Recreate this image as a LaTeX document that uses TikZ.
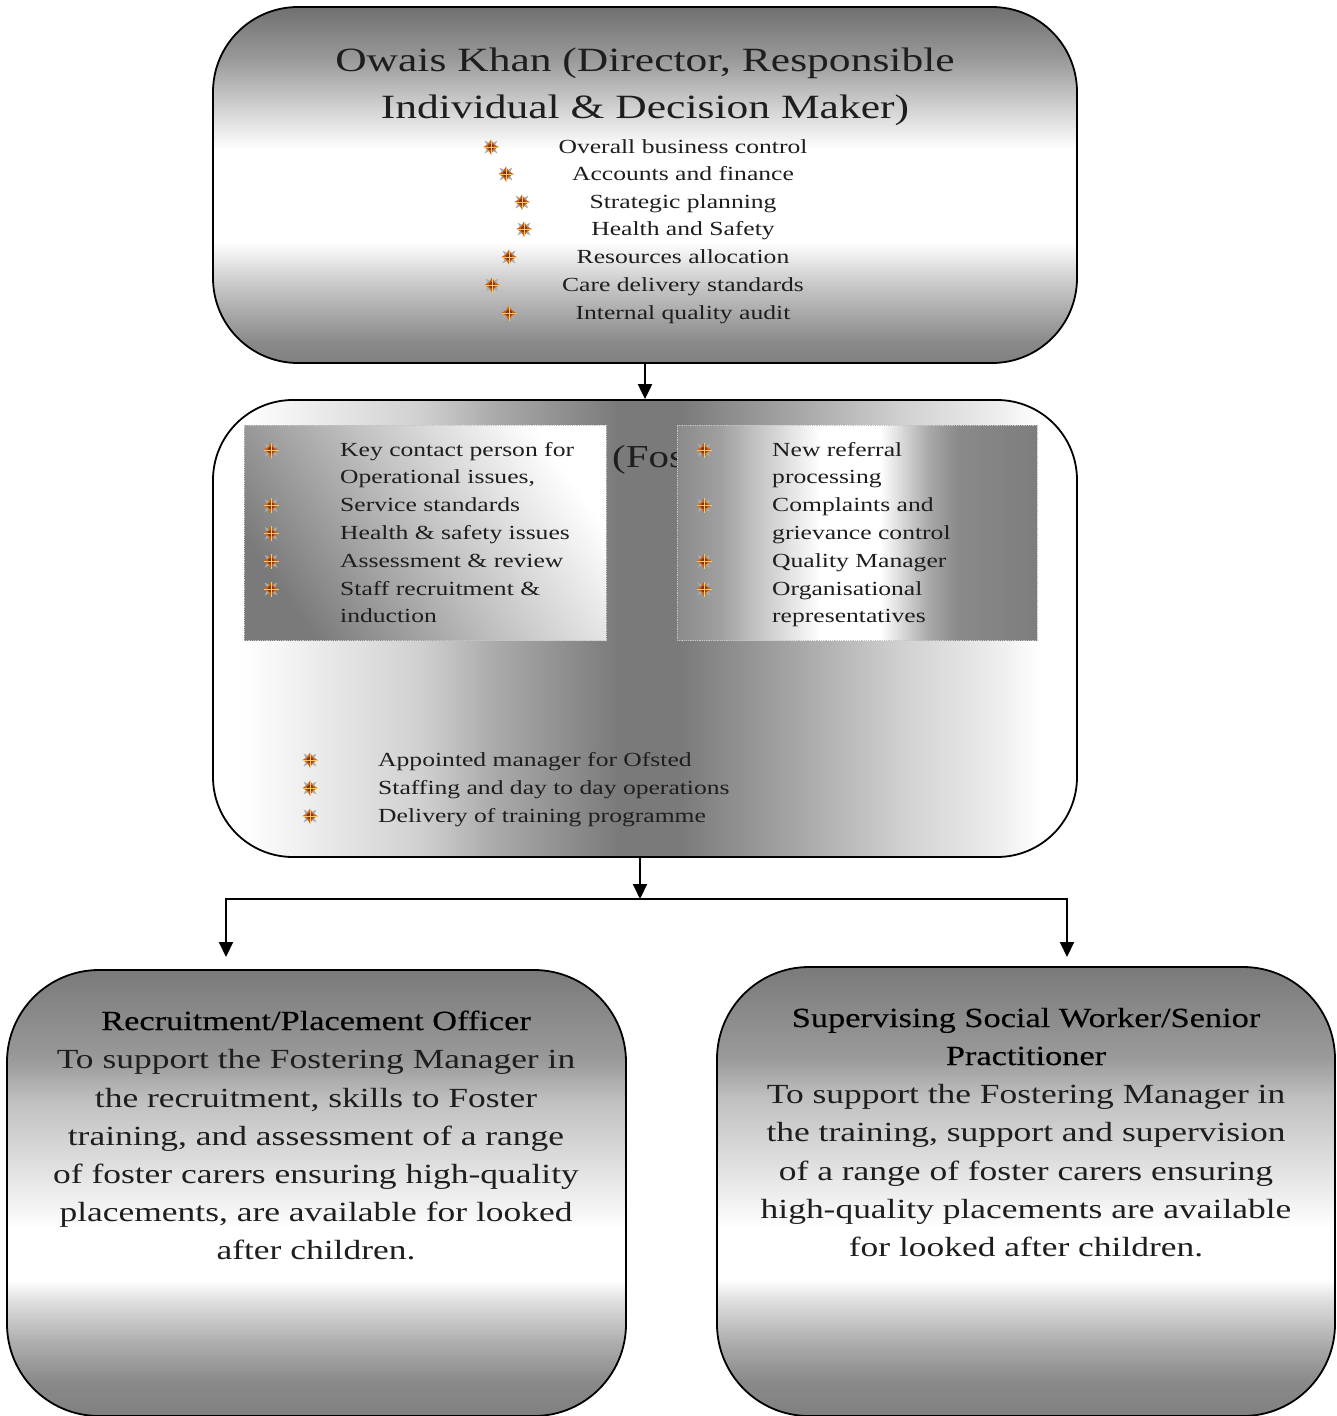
\documentclass[tikz,border=0pt]{standalone}
\usepackage{fontspec}
\setmainfont{Liberation Serif}[FakeStretch=1.28]
\newfontfamily\headfont{Liberation Serif}[FakeStretch=1.24, FakeBold=0.25]
\usetikzlibrary{shapes.geometric,arrows.meta}
\definecolor{txt}{RGB}{30,30,30}
\definecolor{g70}{RGB}{112,112,112}
\definecolor{g7a}{RGB}{122,122,122}
\definecolor{g80}{RGB}{128,128,128}
\definecolor{g8a}{RGB}{138,138,138}
\definecolor{g9a}{RGB}{154,154,154}
\definecolor{ga0}{RGB}{160,160,160}
\definecolor{ga8}{RGB}{168,168,168}
\definecolor{gb0}{RGB}{176,176,176}
\definecolor{gc0}{RGB}{192,192,192}
\definecolor{gc8}{RGB}{200,200,200}
\definecolor{gd0}{RGB}{208,208,208}
\definecolor{ge0}{RGB}{224,224,224}
\definecolor{gee}{RGB}{238,238,238}
\definecolor{gf0}{RGB}{240,240,240}
\definecolor{g7d}{RGB}{125,125,125}
\definecolor{bulbody}{RGB}{200,95,30}
\definecolor{bulbrown}{RGB}{140,45,15}
\definecolor{bulgold}{RGB}{250,205,90}
\pgfdeclareverticalshading{topshade}{100bp}{color(0bp)=(g80); color(25bp)=(g80); color(28bp)=(g8a); color(36bp)=(gc8); color(42bp)=(white); color(55bp)=(white); color(61bp)=(gd0); color(67.6bp)=(g9a); color(75bp)=(g70); color(100bp)=(g70)}
\pgfdeclareverticalshading{botshade}{100bp}{color(0bp)=(g80); color(25bp)=(g80); color(29bp)=(g8a); color(33.5bp)=(gb0); color(38bp)=(ge0); color(40.2bp)=(white); color(45.9bp)=(white); color(49.2bp)=(gf0); color(60.4bp)=(gc0); color(64.9bp)=(g9a); color(75bp)=(g7a); color(100bp)=(g7a)}
\pgfdeclarehorizontalshading{midshade}{100bp}{color(0bp)=(white); color(26.7bp)=(white); color(37bp)=(gd0); color(41.6bp)=(ga8); color(48.5bp)=(g7a); color(52bp)=(g7a); color(59bp)=(ga8); color(64.8bp)=(gd0); color(70.5bp)=(gee); color(72.9bp)=(white); color(100bp)=(white)}
\pgfdeclarehorizontalshading{rshade}{100bp}{color(0bp)=(g8a); color(25bp)=(g8a); color(31bp)=(ga0); color(37.9bp)=(gd0); color(44.9bp)=(white); color(53.2bp)=(white); color(60bp)=(ga8); color(64bp)=(g8a); color(75bp)=(g7d); color(100bp)=(g7d)}
\begin{document}
\begin{tikzpicture}[x=1pt,y=-1pt,
  box/.style={draw=black, line width=1.8pt, inner sep=0pt},
  innerbox/.style={draw=gray!45, densely dotted, line width=0.8pt, inner sep=0pt},
  arr/.style={line width=2pt, -{Triangle[width=14pt,length=15pt]}},
  con/.style={line width=2pt},
  ttl/.style={inner sep=0pt, anchor=base, font=\fontsize{34}{40}\selectfont, text=txt},
  bod/.style={inner sep=0pt, anchor=base, font=\fontsize{20}{24}\selectfont, text=txt},
  bodw/.style={bod, anchor=base west},
  big/.style={inner sep=0pt, anchor=base, font=\fontsize{27.7}{32}\selectfont, text=txt},
  head/.style={inner sep=0pt, anchor=base, font=\headfont\fontsize{27.7}{32}\selectfont, text=black},
  bul/.pic={
    \fill[gray!65] (45:9pt)--(90:3.2pt)--(135:9pt)--(180:3.2pt)--(225:9pt)--(270:3.2pt)--(315:9pt)--(0:3.2pt)--cycle;
    \fill[bulbody] (0:7.5pt)--(45:4pt)--(90:7.5pt)--(135:4pt)--(180:7.5pt)--(225:4pt)--(270:7.5pt)--(315:4pt)--cycle;
    \fill[bulbrown] (0,0) circle[radius=3.2pt];
    \draw[bulgold, line width=0.9pt] (-7.5pt,0)--(7.5pt,0) (0,-7.5pt)--(0,7.5pt);
  }
]
\useasboundingbox (0,0) rectangle (1336,1416);

% top box
\node[box, rounded corners=85pt, shading=topshade, minimum width=864pt, minimum height=356pt] (topbox) at (645,185) {};
\node[ttl] (t1) at (645,71) {Owais Khan (Director, Responsible};
\node[ttl] (t2) at (645,118) {Individual \& Decision Maker)};
\foreach \y/\bx/\t [count=\i] in {147/491/Overall business control, 174/506/Accounts and finance, 202/522/Strategic planning, 229/524/Health and Safety, 257/509/Resources allocation, 285/492/Care delivery standards, 313/509/Internal quality audit}{
  \node[bod] (tl\i) at (683,\y+6) {\t};
  \pic at (\bx,\y) {bul};
}

% middle box
\node[box, rounded corners=80pt, shading=midshade, minimum width=864pt, minimum height=457pt] (midbox) at (645,628.5) {};
\node[inner sep=0pt, anchor=base west, font=\fontsize{32}{36}\selectfont, text=txt] (fos) at (612,467) {(Fos};

% left inner box
\node[innerbox, top color=white, bottom color=g7a, middle color=gc0, shading angle=-55, minimum width=362pt, minimum height=215pt] (lbox) at (425,532.5) {};
\foreach \k/\t/\b in {0/Key contact person for/1, 1/{Operational issues,}/0, 2/Service standards/1, 3/Health \& safety issues/1, 4/Assessment \& review/1, 5/Staff recruitment \&/1, 6/induction/0}{
  \node[bodw] (ll\k) at (340,456+27.8*\k) {\t};
  \ifnum\b=1 \pic at (271,450+27.8*\k) {bul}; \fi
}

% right inner box
\node[innerbox, shading=rshade, minimum width=360pt, minimum height=215pt] (rbox) at (857,532.5) {};
\foreach \k/\t/\b in {0/New referral/1, 1/processing/0, 2/Complaints and/1, 3/grievance control/0, 4/Quality Manager/1, 5/Organisational/1, 6/representatives/0}{
  \node[bodw] (rl\k) at (772,456+27.8*\k) {\t};
  \ifnum\b=1 \pic at (704,450+27.8*\k) {bul}; \fi
}

% lower list
\foreach \k/\t in {0/Appointed manager for Ofsted, 1/Staffing and day to day operations, 2/Delivery of training programme}{
  \node[bodw] (ml\k) at (378,766+28*\k) {\t};
  \pic at (310,760+28*\k) {bul};
}

% bottom boxes
\node[box, rounded corners=92pt, shading=botshade, minimum width=619pt, minimum height=446pt] (lbot) at (316.5,1193) {};
\node[box, rounded corners=92pt, shading=botshade, minimum width=618pt, minimum height=449pt] (rbot) at (1026,1191.5) {};

\node[head] (bl1) at (316,1030) {Recruitment/Placement Officer};
\foreach \y/\t [count=\i] in {1068/To support the Fostering Manager in, 1107/{the recruitment, skills to Foster}, 1145/{training, and assessment of a range}, 1183/of foster carers ensuring high-quality, 1221/{placements, are available for looked}, 1259/after children.}{
  \node[big] (bl\i x) at (316,\y) {\t};
}
\node[head] (br1) at (1026,1027) {Supervising Social Worker/Senior};
\node[head] (br2) at (1026,1065) {Practitioner};
\foreach \y/\t [count=\i] in {1103/To support the Fostering Manager in, 1141/{the training, support and supervision}, 1180/of a range of foster carers ensuring, 1218/high-quality placements are available, 1256/for looked after children.}{
  \node[big] (br\i x) at (1026,\y) {\t};
}

% connectors
\draw[arr] (topbox.south) -- (midbox.north);
\coordinate (split) at (640,899);
\coordinate (jl) at (226,899);
\coordinate (jr) at (1067,899);
\coordinate (el) at (226,957);
\coordinate (er) at (1067,957);
\draw[arr] (split |- midbox.south) -- (split);
\draw[con, line cap=rect] (jl) -- (jr);
\draw[arr] (jl) -- (el);
\draw[arr] (jr) -- (er);
\end{tikzpicture}
\end{document}
